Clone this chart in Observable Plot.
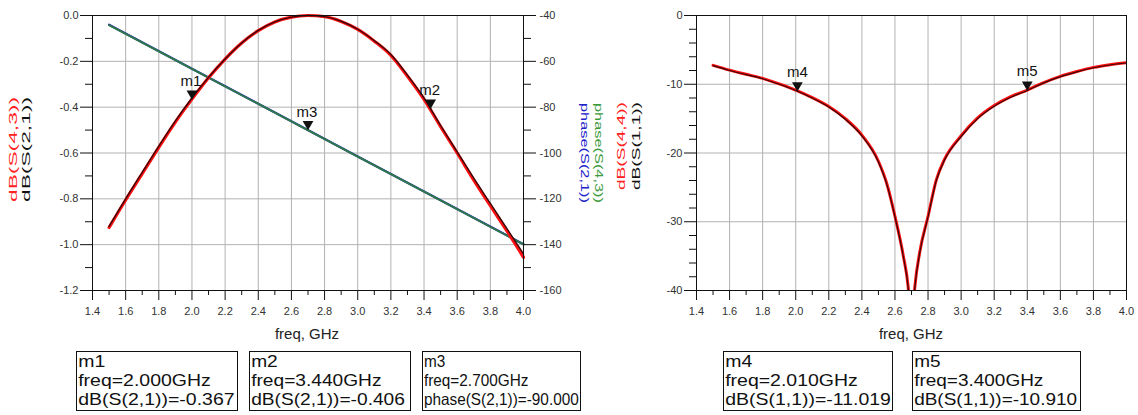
<!DOCTYPE html>
<html><head><meta charset="utf-8">
<script src="https://cdn.jsdelivr.net/npm/d3@7"></script>
<script src="https://cdn.jsdelivr.net/npm/@observablehq/plot@0.6"></script>
<style>
body{margin:0;background:#fff;font-family:"Liberation Sans",Arial,sans-serif;}
#wrap{position:relative;width:1138px;height:415px;overflow:hidden;background:#fff;}
#left{position:absolute;left:0;top:0;}
#right{position:absolute;left:608px;top:0;}
.xl{position:absolute;top:326px;font-size:15px;line-height:15px;color:#222;transform:translateX(-50%);white-space:nowrap;}
.box{position:absolute;top:351px;height:60px;border:1.5px solid #111;box-sizing:border-box;overflow:hidden;color:#111;}
.box .in{font-size:16.5px;line-height:19px;white-space:nowrap;transform-origin:0 0;padding-left:1px;}
</style></head>
<body><div id="wrap"><div id="left"></div><div id="right"></div></div>
<script>
// ---------- data ----------
const freqL = [1.5,1.6,1.7,1.8,1.9,2.0,2.1,2.2,2.3,2.4,2.5,2.6,2.7,2.8,2.9,3.0,3.1,3.2,3.3,3.4,3.5,3.6,3.7,3.8,3.9,4.0];
const dB21  = [-0.92,-0.80,-0.685,-0.57,-0.46,-0.36,-0.27,-0.19,-0.12,-0.065,-0.028,-0.007,0,-0.005,-0.025,-0.06,-0.11,-0.17,-0.26,-0.36,-0.48,-0.595,-0.71,-0.82,-0.93,-1.04];
const dB43  = [-0.925,-0.805,-0.69,-0.575,-0.465,-0.365,-0.272,-0.19,-0.12,-0.066,-0.028,-0.007,0,-0.005,-0.026,-0.061,-0.112,-0.174,-0.265,-0.366,-0.485,-0.6,-0.718,-0.83,-0.94,-1.055];
const freqP   = [1.5,2.0,2.5,3.0,3.5,4.0];
const phase21 = [-44.0,-63.2,-82.3,-101.5,-120.6,-139.8];
const phase43 = [-44.2,-63.3,-82.4,-101.6,-120.7,-139.9];
const freqR = [1.5,1.6,1.7,1.8,1.9,2.0,2.1,2.2,2.3,2.4,2.5,2.55,2.6,2.65,2.68,2.7,2.72,2.75,2.8,2.85,2.9,3.0,3.1,3.2,3.3,3.4,3.5,3.6,3.7,3.8,3.9,4.0];
const dB11  = [-7.3,-8.0,-8.6,-9.2,-10.0,-10.9,-12.0,-13.3,-15.1,-17.5,-21.3,-24.5,-29.3,-35.0,-39.6,-46,-39.6,-34.5,-29.3,-24.0,-21.0,-17.6,-15.0,-13.2,-11.9,-10.9,-9.8,-8.9,-8.2,-7.6,-7.2,-6.9];
const dB44  = [-7.25,-7.95,-8.55,-9.15,-9.95,-10.85,-11.95,-13.25,-15.0,-17.4,-21.2,-24.4,-29.2,-34.9,-39.5,-46,-39.5,-34.4,-29.2,-23.9,-20.9,-17.5,-14.9,-13.1,-11.8,-10.85,-9.75,-8.85,-8.15,-7.55,-7.15,-6.85];
const freqTicks  = [1.4,1.6,1.8,2.0,2.2,2.4,2.6,2.8,3.0,3.2,3.4,3.6,3.8,4.0];
const freqMinor  = [1.5,1.7,1.9,2.1,2.3,2.5,2.7,2.9,3.1,3.3,3.5,3.7,3.9];
const dbTicksL   = [0,-0.2,-0.4,-0.6,-0.8,-1.0,-1.2];
const dbMinorL   = [-0.1,-0.3,-0.5,-0.7,-0.9,-1.1];
const phaseTicks = [-40,-60,-80,-100,-120,-140,-160];
const phaseMinor = [-50,-70,-90,-110,-130,-150];
const dbTicksR   = [0,-10,-20,-30,-40];
const dbMinorR   = [-2,-4,-6,-8,-12,-14,-16,-18,-22,-24,-26,-28,-32,-34,-36,-38];
const mNamesL = ["m1","m2","m3"];
const mFreqL  = [2.000,3.440,2.700];
const mMeasL  = ["dB(S(2,1))","dB(S(2,1))","phase(S(2,1))"];
const mValL   = [-0.367,-0.406,-90.000];
const mNamesR = ["m4","m5"];
const mFreqR  = [2.010,3.400];
const mMeasR  = ["dB(S(1,1))","dB(S(1,1))"];
const mValR   = [-11.019,-10.910];

// ---------- helpers ----------
const FONT = "Liberation Sans, Arial, sans-serif";
const GRID = "#b2b2b2";
const AX = "#222";
// phase (deg) -> position on the left dB scale: -40 -> 0, -160 -> -1.2
const ph2db = p => (p + 40) / 100;
const db2ph = v => Math.round(v * 100 - 40);
const rows = (fs, vs) => fs.map((f, i) => ({f, v: vs[i]}));
const mrowsL = mNamesL.map((n, i) => ({n, f: mFreqL[i], y: mMeasL[i].startsWith("phase") ? ph2db(mValL[i]) : mValL[i]}));
const mrowsR = mNamesR.map((n, i) => ({n, f: mFreqR[i], y: mValR[i]}));

const left = Plot.plot({
  width: 608, height: 320,
  marginTop: 15, marginRight: 85, marginBottom: 30, marginLeft: 92,
  style: {fontFamily: FONT, fontSize: "11px", color: AX, background: "white", overflow: "visible"},
  x: {domain: [1.4, 4.0], label: null},
  y: {domain: [-1.2, 0], label: null},
  marks: [
    Plot.gridX(freqTicks, {stroke: GRID, strokeOpacity: 1}),
    Plot.gridY(dbTicksL, {stroke: GRID, strokeOpacity: 1}),
    Plot.line(rows(freqP, phase21), {x: "f", y: d => ph2db(d.v), stroke: "#2020b0", strokeWidth: 2.2}),
    Plot.line(rows(freqP, phase43), {x: "f", y: d => ph2db(d.v), stroke: "#2e7a48", strokeWidth: 1.9}),
    Plot.line(rows(freqL, dB43), {x: "f", y: "v", stroke: "#ff1010", strokeWidth: 3.2, curve: "monotone-x"}),
    Plot.line(rows(freqL, dB21), {x: "f", y: "v", stroke: "#3a0808", strokeWidth: 1.4, curve: "monotone-x"}),
    Plot.frame({stroke: "#111"}),
    Plot.axisX(freqTicks, {tickSize: 10, tickPadding: 7, tickFormat: d => d.toFixed(1), stroke: "#111", fill: "#333"}),
    Plot.axisX(freqMinor, {tickSize: 5, tickFormat: () => "", stroke: "#111"}),
    Plot.axisY(dbTicksL, {anchor: "left", tickSize: 12, tickPadding: 2, tickFormat: d => d.toFixed(1), stroke: "#111", fill: "#333"}),
    Plot.axisY(dbMinorL, {anchor: "left", tickSize: 7, tickFormat: () => "", stroke: "#111"}),
    Plot.axisY(phaseTicks.map(ph2db), {anchor: "right", tickSize: 12, tickPadding: 4, tickFormat: d => String(db2ph(d)), stroke: "#111", fill: "#333"}),
    Plot.axisY(phaseMinor.map(ph2db), {anchor: "right", tickSize: 7, tickFormat: () => "", stroke: "#111"}),
    Plot.dot(mrowsL, {x: "f", y: "y", symbol: "triangle", rotate: 180, r: 4, fill: "#111", dy: -6}),
    Plot.text(mrowsL, {x: "f", y: "y", text: "n", dy: -18, dx: -1, fontSize: 15, fill: "#111"}),
    Plot.text(["dB(S(4,3))"], {text: d => d, frameAnchor: "left", dx: -79, dy: 49, rotate: -90, fill: "#ff2020", fontSize: 11}),
    Plot.text(["dB(S(2,1))"], {text: d => d, frameAnchor: "left", dx: -66, dy: 49, rotate: -90, fill: "#111", fontSize: 11}),
    Plot.text(["phase(S(2,1))"], {text: d => d, frameAnchor: "right", dx: 61, dy: -50, rotate: 90, fill: "#2020c8", fontSize: 11}),
    Plot.text(["phase(S(4,3))"], {text: d => d, frameAnchor: "right", dx: 75, dy: -50, rotate: 90, fill: "#3a9a3a", fontSize: 11})
  ]
});

const right = Plot.plot({
  width: 530, height: 320,
  marginTop: 15, marginRight: 12, marginBottom: 30, marginLeft: 88,
  style: {fontFamily: FONT, fontSize: "11px", color: AX, background: "white", overflow: "visible"},
  x: {domain: [1.4, 4.0], label: null},
  y: {domain: [-40, 0], label: null},
  marks: [
    Plot.gridX(freqTicks, {stroke: GRID, strokeOpacity: 1}),
    Plot.gridY(dbTicksR, {stroke: GRID, strokeOpacity: 1}),
    Plot.line(rows(freqR, dB44), {x: "f", y: "v", stroke: "#ff1010", strokeWidth: 3.0, curve: "monotone-x", clip: true}),
    Plot.line(rows(freqR, dB11), {x: "f", y: "v", stroke: "#3a0808", strokeWidth: 1.2, curve: "monotone-x", clip: true}),
    Plot.frame({stroke: "#111"}),
    Plot.axisX(freqTicks, {tickSize: 10, tickPadding: 7, tickFormat: d => d.toFixed(1), stroke: "#111", fill: "#333"}),
    Plot.axisX(freqMinor, {tickSize: 5, tickFormat: () => "", stroke: "#111"}),
    Plot.axisY(dbTicksR, {anchor: "left", tickSize: 12, tickPadding: 2, tickFormat: d => String(d), stroke: "#111", fill: "#333"}),
    Plot.axisY(dbMinorR, {anchor: "left", tickSize: 7, tickFormat: () => "", stroke: "#111"}),
    Plot.dot(mrowsR, {x: "f", y: "y", symbol: "triangle", rotate: 180, r: 4, fill: "#111", dy: -6}),
    Plot.text(mrowsR, {x: "f", y: "y", text: "n", dy: -19, fontSize: 15, fill: "#111"}),
    Plot.text(["dB(S(4,4))"], {text: d => d, frameAnchor: "left", dx: -75, dy: 37, rotate: -90, fill: "#ff2020", fontSize: 11}),
    Plot.text(["dB(S(1,1))"], {text: d => d, frameAnchor: "left", dx: -60, dy: 37, rotate: -90, fill: "#111", fontSize: 11})
  ]
});

// stretch the rotated axis titles like the reference (anchored at their start)
const stretch = {"dB(S(4,3))": 105, "dB(S(2,1))": 105, "phase(S(2,1))": 100, "phase(S(4,3))": 100, "dB(S(4,4))": 88, "dB(S(1,1))": 88};
for (const svg of [left, right]) {
  svg.querySelectorAll("text").forEach(t => {
    const L = stretch[t.textContent];
    if (L) {
      t.setAttribute("text-anchor", "start");
      t.setAttribute("textLength", L);
      t.setAttribute("lengthAdjust", "spacingAndGlyphs");
    }
  });
}
document.getElementById("left").appendChild(left);
document.getElementById("right").appendChild(right);

// x titles and marker readout boxes
const wrap = document.getElementById("wrap");
function addDiv(cls, css, html) {
  const d = document.createElement("div");
  d.className = cls; d.style.cssText = css; d.innerHTML = html; wrap.appendChild(d); return d;
}
addDiv("xl", "left:307px;", "freq, GHz");
addDiv("xl", "left:911px;", "freq, GHz");
const boxL = [[76,162,1.18],[249,162,1.16],[422,159,0.93]];
const boxR = [[723,170,1.18],[912,169,1.15]];
function boxes(names, freqs, meas, vals, pos) {
  names.forEach((n, i) => {
    addDiv("box", `left:${pos[i][0]}px;width:${pos[i][1]}px;`,
      `<div class="in" style="transform:scaleX(${pos[i][2]})">${n}<br>freq=${freqs[i].toFixed(3)}GHz<br>${meas[i]}=${vals[i].toFixed(3)}</div>`);
  });
}
boxes(mNamesL, mFreqL, mMeasL, mValL, boxL);
boxes(mNamesR, mFreqR, mMeasR, mValR, boxR);
</script>
</body></html>
